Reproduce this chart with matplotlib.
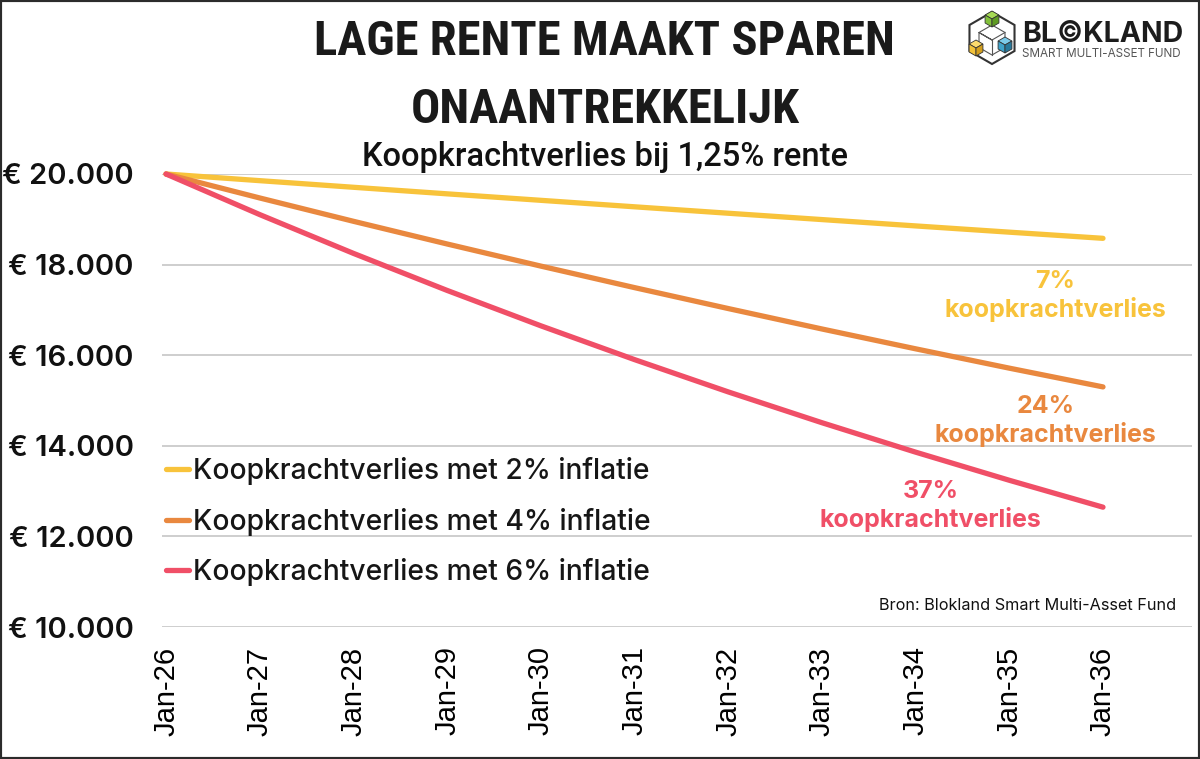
import matplotlib.pyplot as plt
from matplotlib.patches import Rectangle, RegularPolygon, Polygon
from matplotlib.ticker import FuncFormatter

# data (value of 20.000 euro savings, 1,25% interest)
months = ["Jan-26", "Jan-27", "Jan-28", "Jan-29", "Jan-30", "Jan-31",
          "Jan-32", "Jan-33", "Jan-34", "Jan-35", "Jan-36"]
infl_2 = [20000, 19853, 19707, 19562, 19419, 19276, 19134, 18994, 18854, 18716, 18580]
infl_4 = [20000, 19471, 18956, 18455, 17967, 17492, 17030, 16579, 16141, 15714, 15300]
infl_6 = [20000, 19104, 18248, 17430, 16649, 15903, 15190, 14510, 13860, 13239, 12645]
labels = ["Koopkrachtverlies met 2% inflatie",
          "Koopkrachtverlies met 4% inflatie",
          "Koopkrachtverlies met 6% inflatie"]
loss_labels = ["7%\nkoopkrachtverlies", "24%\nkoopkrachtverlies", "37%\nkoopkrachtverlies"]
y_ticks = [10000, 12000, 14000, 16000, 18000, 20000]

yellow = "#F8C33B"
orange = "#E9883F"
red = "#F04F67"

plt.rcParams['font.family'] = ['Inter', 'DejaVu Sans']

fig = plt.figure(figsize=(12, 7.59), dpi=100)
ax = fig.add_axes([162 / 1200, 1 - 627 / 759, 1030 / 1200, 453 / 759])

x = list(range(len(months)))
for vals, col, lab in zip([infl_2, infl_4, infl_6], [yellow, orange, red], labels):
    ax.plot(x, vals, color=col, lw=3.8, solid_capstyle='round', label=lab, clip_on=False, zorder=3)

ax.set_xlim(-0.043, 10.95)
ax.set_ylim(10000, 20000)
ax.set_yticks(y_ticks)
ax.yaxis.set_major_formatter(FuncFormatter(lambda v, p: "€ {:,.0f}".format(v).replace(",", ".")))
ax.set_xticks(x)
ax.set_xticklabels(months, rotation=90, family='Liberation Sans', fontsize=21)
ax.tick_params(axis='x', length=0, pad=14)
ax.tick_params(axis='y', length=0, pad=20.5, labelsize=21)
for t in ax.get_yticklabels():
    t.set_fontweight('semibold')
    t.set_color('#111111')
ax.grid(axis='y', color='#c6c6c6', lw=1.2)
ax.set_axisbelow(True)
for s in ax.spines.values():
    s.set_visible(False)

leg = ax.legend(loc='upper left', bbox_to_anchor=(166 / 1200, 1 - 457 / 759),
                bbox_transform=fig.transFigure, frameon=False, fontsize=20.3,
                handlelength=0.8, handletextpad=0.15, labelspacing=0.8,
                borderpad=0, borderaxespad=0)
for t in leg.get_texts():
    t.set_fontweight('medium')
    t.set_color('#161616')

# loss annotations
ax.text(9.49, 17310, loss_labels[0], color=yellow, fontsize=18, fontweight='bold',
        ha='center', va='center', linespacing=1.22)
ax.text(9.39, 14550, loss_labels[1], color=orange, fontsize=18, fontweight='bold',
        ha='center', va='center', linespacing=1.22)
ax.text(8.16, 12670, loss_labels[2], color=red, fontsize=18, fontweight='bold',
        ha='center', va='center', linespacing=1.22)

# titles
title_font = ['Roboto Condensed', 'DejaVu Sans']
fig.text(0.504, 1 - 42 / 759, "LAGE RENTE MAAKT SPAREN", ha='center', va='center',
         family=title_font, fontstretch='condensed', fontweight='bold', fontsize=35,
         color='#1a1a1a')
fig.text(0.504, 1 - 110 / 759, "ONAANTREKKELIJK", ha='center', va='center',
         family=title_font, fontstretch='condensed', fontweight='bold', fontsize=35,
         color='#1a1a1a')
fig.text(0.504, 1 - 157 / 759, "Koopkrachtverlies bij 1,25% rente", ha='center', va='center',
         family=['Roboto', 'DejaVu Sans'], fontsize=23.5, fontweight='medium', color='#111111')

fig.text(1176 / 1200, 1 - 605 / 759, "Bron: Blokland Smart Multi-Asset Fund", ha='right',
         va='center', fontsize=11.7, color='#111111')

# logo
lax = fig.add_axes([955 / 1200, 1 - 70 / 759, 80 / 1200, 70 / 759])
lax.set_xlim(955, 1035)
lax.set_ylim(70, 0)
lax.set_aspect('equal')
lax.axis('off')
lax.add_patch(RegularPolygon((992, 38), 6, radius=26, fill=False, ec='#333333', lw=1.5))
lax.add_patch(RegularPolygon((992, 40), 6, radius=15, fill=False, ec='#555555', lw=0.8))
lax.plot([992, 992], [40, 55], color='#555555', lw=0.8)
lax.plot([992, 979, 992, 1005], [40, 32.5, 40, 32.5], color='#555555', lw=0.8)


def cube(cx, cy, r, shades):
    h = 0.866 * r
    top = [(cx, cy), (cx - h, cy - r / 2), (cx, cy - r), (cx + h, cy - r / 2)]
    left = [(cx, cy), (cx - h, cy - r / 2), (cx - h, cy + r / 2), (cx, cy + r)]
    right = [(cx, cy), (cx + h, cy - r / 2), (cx + h, cy + r / 2), (cx, cy + r)]
    for pts, c in zip([top, left, right], shades):
        lax.add_patch(Polygon(pts, closed=True, fc=c, ec='#333333', lw=0.6))


cube(992, 19, 8, ['#A6DA55', '#82C13A', '#5E9A22'])
cube(976, 48, 8, ['#FCDB6E', '#F2C23A', '#D39E1C'])
cube(1005, 45, 8, ['#7CCBEA', '#3FA2C9', '#27789B'])

fig.text(1022 / 1200, 1 - 35 / 759, "BL©KLAND", ha='left', va='center', fontsize=20.5,
         fontweight='bold', color='#1c1c1c')
fig.text(1022 / 1200, 1 - 54 / 759, "SMART MULTI-ASSET FUND", ha='left', va='center',
         fontsize=8.4, color='#555555')

# border round the picture
fig.patches.append(Rectangle((0, 0), 1, 1, transform=fig.transFigure, fill=False,
                             ec='#2b2b2b', lw=3))

fig.savefig("out.png", dpi=100)
